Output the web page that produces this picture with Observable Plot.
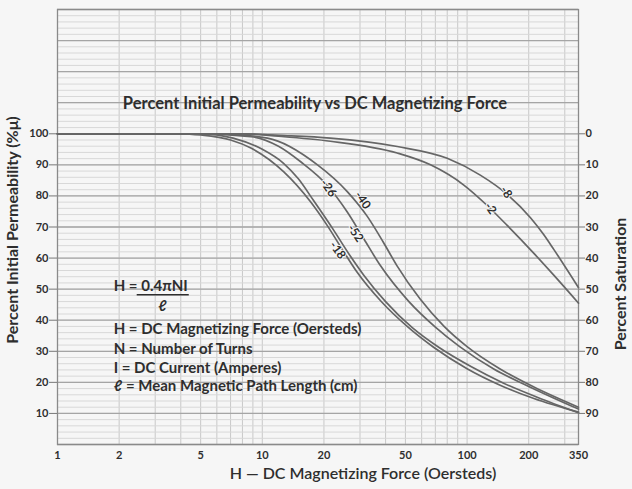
<!DOCTYPE html>
<html>
<head>
<meta charset="utf-8">
<script src="https://cdn.jsdelivr.net/npm/d3@7"></script>
<script src="https://cdn.jsdelivr.net/npm/@observablehq/plot@0.6"></script>
<style>
  html, body { margin: 0; padding: 0; background: #f6f6f6; }
  #chart svg { display: block; }
</style>
</head>
<body>
<div id="chart"></div>
<script>
// ---- Data ----
const xTicks = [1, 2, 5, 10, 20, 50, 100, 200, 350];
const yTicks = [10, 20, 30, 40, 50, 60, 70, 80, 90, 100];

const titleText = "Percent Initial Permeability vs DC Magnetizing Force";
const xLabel = "H \u2014 DC Magnetizing Force (Oersteds)";
const yLabelLeft = "Percent Initial Permeability (%\u03bc)";
const yLabelRight = "Percent Saturation";

// curves: [H (Oersteds), percent initial permeability]
const mix18 = [[1,100],[4,100],[5,99.6],[7,98],[8.8,95.4],[12.7,87.8],[17.2,78.1],[20.7,70.6],[25,62],[29,55.5],[38,46.1],[51,38],[68.6,31.3],[100,24.4],[145,19.1],[212,14.8],[350,10.4]];
const mix52 = [[1,100],[5,100],[7.2,98.6],[10,95],[12.7,90.5],[15,85.5],[17.8,78.5],[22.3,69],[27,60.5],[31.3,54.5],[40,46],[54,37.6],[73,31.2],[105,25],[150,19.8],[220,15.2],[350,10.2]];
const mix26 = [[1,100],[5,100],[8.8,99.1],[12,96],[15.4,91],[20.7,83.5],[26,74.8],[31.3,66.2],[37.8,57.5],[52,46],[70,37.8],[92,31.5],[135,24.3],[200,18.7],[350,11.4]];
const mix40 = [[1,100],[6,100],[10.6,98.6],[18.6,90],[26,81.4],[32.5,73.5],[39,65.1],[45.5,57.5],[59,46.8],[77,38.1],[100,31.5],[145,24.3],[212,18.5],[350,12]];
const mix8  = [[1,100],[8,100],[12,99.5],[21.5,98.6],[45.6,95.9],[80,92.1],[116,86.7],[157,80.5],[204,73],[237,67.5],[265,62.8],[350,50.5]];
const mix2  = [[1,100],[8,100],[12,99.2],[21.5,97.6],[45.6,93.8],[66.3,90],[96.4,83.5],[125,77],[157,70.5],[212,61.5],[265,54.5],[350,45.5]];

const curveNames = ["-18", "-52", "-26", "-40", "-8", "-2"];
const curveData  = [mix18, mix52, mix26, mix40, mix8, mix2];
// label anchor positions [H, %]
const labelPos = [[23.3,62.5],[28.5,68],[21,82.5],[30.9,78.6],[155,81.2],[130,76]];

// formula / legend text block (positions in data units)
const formulaLines = [
  {x: 1.88, y: 51.1, t: "H = 0.4\u03c0NI"},
  {x: 3.1, y: 44.6, t: "\u2113"},
  {x: 1.88, y: 37.2, t: "H = DC Magnetizing Force (Oersteds)"},
  {x: 1.88, y: 30.8, t: "N = Number of Turns"},
  {x: 1.88, y: 24.6, t: "I = DC Current (Amperes)"},
  {x: 1.88, y: 18.8, t: "\u2113 = Mean Magnetic Path Length (cm)"}
];
const fractionBar = [{x1: 2.45, x2: 4.4, y: 48.2}];

// ---- build tables ----
const rows = curveData.flatMap((pts, i) => pts.map(([h, p]) => ({name: curveNames[i], h, p})));
const labels = curveNames.map((n, i) => ({name: n, h: labelPos[i][0], p: labelPos[i][1]}));

// grid positions
const vGrid = [];
for (const d of [1, 10, 100]) for (let k = 1; k <= 9; k++) if (k * d <= 350) vGrid.push(k * d);
vGrid.push(350);
const hMinor = d3.range(0, 141, 2);
const hMajor = d3.range(0, 141, 10);

const ink = "#2e2e2e";

const chart = Plot.plot({
  width: 632,
  height: 489,
  marginLeft: 57,
  marginRight: 54,
  marginTop: 9,
  marginBottom: 45,
  x: {type: "log", domain: [1, 350], axis: null},
  y: {domain: [0, 140], axis: null},
  style: {background: "#f6f6f6", fontFamily: "Lato, 'Open Sans', sans-serif", color: ink},
  marks: [
    Plot.ruleX(vGrid, {stroke: "#c8c8c8", strokeWidth: 1}),
    Plot.ruleY(hMinor, {stroke: "#d8d8d8", strokeWidth: 1}),
    Plot.ruleY(hMajor, {stroke: "#a5a5a5", strokeWidth: 1.3}),
    Plot.frame({stroke: "#8a8a8a", strokeWidth: 1.3}),
    Plot.axisY(yTicks, {anchor: "left", tickSize: 8, tickPadding: 1, fontSize: 11, fontWeight: "bold", label: null, stroke: "#777"}),
    Plot.axisY(yTicks, {anchor: "right", tickSize: 6, tickPadding: 1, fontSize: 11, fontWeight: "bold", label: null, tickFormat: d => String(100 - d), stroke: "#777"}),
    Plot.text(xTicks, {x: d => d, frameAnchor: "bottom", dy: 14, fontSize: 11, fontWeight: "bold", fill: ink, text: d => String(d)}),
    Plot.line(rows, {x: "h", y: "p", z: "name", curve: "monotone-x", stroke: "#666", strokeWidth: 1.7}),
    Plot.text(labels, {x: "h", y: "p", text: "name", rotate: 55, fontSize: 12, fontWeight: "bold", fill: ink, stroke: "#f6f6f6", strokeWidth: 2}),
    Plot.text(formulaLines, {x: "x", y: "y", text: "t", textAnchor: "start", fontSize: 15, fontWeight: "bold", fill: ink}),
    Plot.ruleY(fractionBar, {x1: "x1", x2: "x2", y: "y", stroke: ink, strokeWidth: 1.6}),
    Plot.text([titleText], {frameAnchor: "top", dy: 88, dx: -3, fontSize: 16.5, fontWeight: "bold", fill: ink}),
    Plot.text([xLabel], {frameAnchor: "bottom", dy: 34, dx: 45, fontSize: 16, fontWeight: "600", fill: ink}),
    Plot.text([yLabelLeft], {frameAnchor: "left", textAnchor: "middle", dx: -45, dy: 3, rotate: -90, fontSize: 16, fontWeight: "bold", fill: ink}),
    Plot.text([yLabelRight], {frameAnchor: "right", textAnchor: "middle", dx: 42, dy: 57, rotate: -90, fontSize: 16, fontWeight: "bold", fill: ink})
  ]
});
document.getElementById("chart").appendChild(chart);
</script>
</body>
</html>
